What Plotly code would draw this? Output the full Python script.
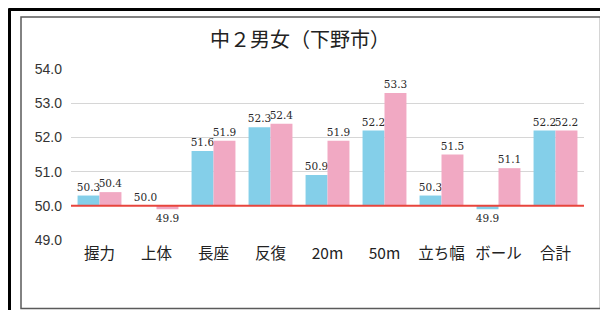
import plotly.graph_objects as go

categories = ['握力', '上体', '長座', '反復', '20m', '50m', '立ち幅', 'ボール', '合計']
boys = [50.3, 50.0, 51.6, 52.3, 50.9, 52.2, 50.3, 49.9, 52.2]
girls = [50.4, 49.9, 51.9, 52.4, 51.9, 53.3, 51.5, 51.1, 52.2]
baseline = 50.0
y_ticks = [49.0, 50.0, 51.0, 52.0, 53.0, 54.0]
title_text = '中２男女（下野市）'

# the page body has an 8px margin, so the figure starts at (8, 8)
OFF = 8
W, H = 600, 303


def fx(x):
    return (x - OFF) / W


def fy(y):
    return 1 - (y - OFF) / H


label_font = dict(family='DejaVu Serif', size=10.5, color='#2a2a2a')

fig = go.Figure()
for name, vals, col in [('男子', boys, '#84cfe9'), ('女子', girls, '#f1a9c3')]:
    fig.add_trace(go.Bar(
        name=name,
        x=categories,
        y=[v - baseline for v in vals],
        base=baseline,
        marker=dict(color=col, line=dict(width=0)),
        text=[f'{v:.1f}' for v in vals],
        textposition='outside',
        textfont=label_font,
        cliponaxis=False,
        constraintext='none',
    ))

shapes = [
    # outer black frame (left and top edges are the visible parts)
    dict(type='line', xref='paper', yref='paper', x0=fx(9.5), x1=fx(9.5), y0=fy(8.5), y1=fy(310),
         line=dict(color='#000000', width=3), layer='above'),
    dict(type='line', xref='paper', yref='paper', x0=fx(8.5), x1=fx(607), y0=fy(9.5), y1=fy(9.5),
         line=dict(color='#000000', width=3), layer='above'),
    # inner grey frame
    dict(type='rect', xref='paper', yref='paper', x0=fx(21), x1=fx(600.5), y0=fy(17), y1=fy(308.5),
         line=dict(color='#5a5a5a', width=1.5), layer='above'),
    # red reference line at 50
    dict(type='line', xref='x domain', yref='y', x0=0, x1=1, y0=baseline, y1=baseline,
         line=dict(color='#e8453c', width=2), layer='above'),
]

fig.update_layout(
    width=W, height=H,
    margin=dict(l=0, r=0, t=0, b=0, autoexpand=False),
    paper_bgcolor='white',
    plot_bgcolor='rgba(0,0,0,0)',
    barmode='group',
    bargap=0.23,
    bargroupgap=0,
    showlegend=False,
    title=dict(text=title_text, xref='paper', x=fx(300), xanchor='center',
               yref='paper', y=fy(40), yanchor='middle',
               font=dict(family='Noto Sans CJK JP', size=20, color='#222222')),
    xaxis=dict(domain=[fx(71), fx(584)], showgrid=False, showline=False, zeroline=False,
               ticks='', automargin=False,
               tickfont=dict(family='Noto Sans CJK JP', size=15.5, color='#222222'),
               ticklabelstandoff=2),
    yaxis=dict(domain=[fy(240), fy(69)], range=[49, 54], tickvals=y_ticks, tickformat='.1f',
               showgrid=True, gridcolor='#d6d6d6', gridwidth=1,
               showline=False, zeroline=False, ticks='', automargin=False,
               tickfont=dict(family='Liberation Sans', size=14, color='#333333'),
               ticklabelstandoff=8),
    shapes=shapes,
)

fig.write_html('out.html')
